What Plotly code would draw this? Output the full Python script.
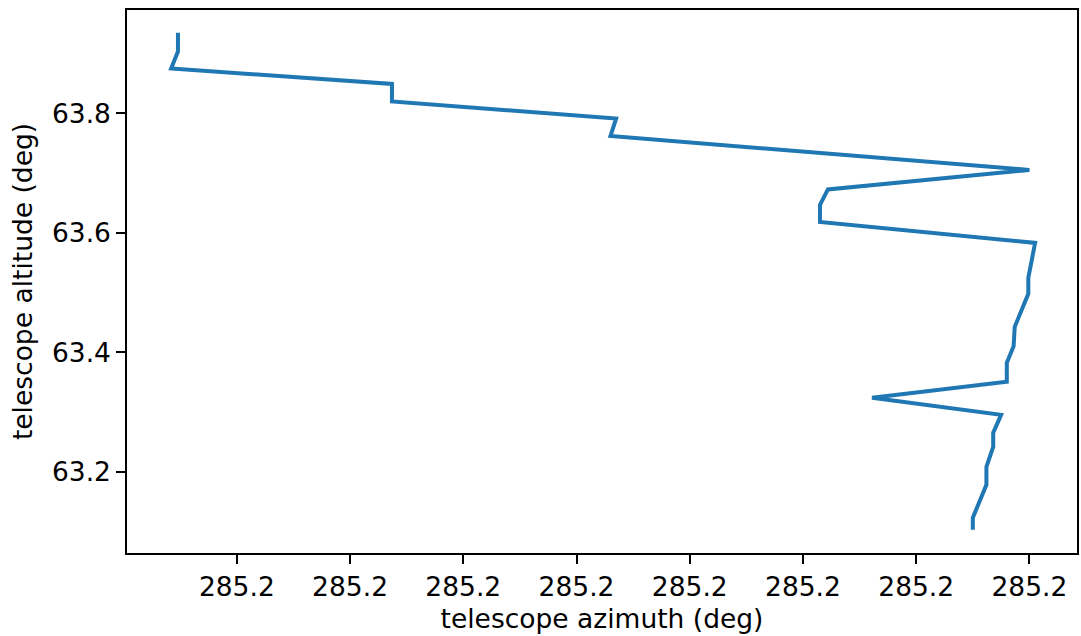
import plotly.graph_objects as go

# telescope azimuth (deg) and altitude (deg) along the track
azimuth = [285.1999648, 285.1999648, 285.1999642, 285.1999837, 285.1999837,
           285.2000035, 285.2000030, 285.2000400, 285.2000222, 285.2000215,
           285.2000215, 285.2000405, 285.2000399, 285.2000399, 285.2000387,
           285.2000386, 285.2000380, 285.2000380, 285.2000261, 285.2000375,
           285.2000368, 285.2000368, 285.2000362, 285.2000362, 285.2000350,
           285.2000350]
altitude = [63.9347, 63.9033, 63.8749, 63.8490, 63.8197,
            63.7913, 63.7621, 63.7052, 63.6726, 63.6467,
            63.6183, 63.5832, 63.5247, 63.4980, 63.4428,
            63.4102, 63.3827, 63.3509, 63.3242, 63.2957,
            63.2657, 63.2422, 63.2088, 63.1787, 63.1236,
            63.1035]

x_tickvals = [285.19997, 285.19998, 285.19999, 285.20000,
              285.20001, 285.20002, 285.20003, 285.20004]
x_ticktext = ["285.2"] * 8
y_tickvals = [63.2, 63.4, 63.6, 63.8]
y_ticktext = ["63.2", "63.4", "63.6", "63.8"]

fig = go.Figure()
fig.add_trace(go.Scatter(x=azimuth, y=altitude, mode="lines",
                         line=dict(color="#1f77b4", width=4),
                         showlegend=False))

font = dict(family="DejaVu Sans", size=26.5, color="black")
fig.update_layout(
    width=1081, height=636,
    margin=dict(l=127, r=4, t=10, b=83, autoexpand=False),
    paper_bgcolor="white", plot_bgcolor="white",
    font=font,
)
fig.update_xaxes(
    range=[285.1999603, 285.2000442],
    tickmode="array", tickvals=x_tickvals, ticktext=x_ticktext,
    ticks="outside", ticklen=9, tickwidth=1.5, tickcolor="black",
    showline=True, linecolor="black", linewidth=1.5, mirror=True,
    showgrid=False, zeroline=False,
    title=dict(text="telescope azimuth (deg)", font=font, standoff=9),
    tickfont=font,
)
fig.update_yaxes(
    range=[63.0646, 63.9727],
    tickmode="array", tickvals=y_tickvals, ticktext=y_ticktext,
    ticks="outside", ticklen=9, tickwidth=1.5, tickcolor="black",
    showline=True, linecolor="black", linewidth=1.5, mirror=True,
    showgrid=False, zeroline=False,
    title=dict(text="telescope altitude (deg)", font=font, standoff=12),
    tickfont=font,
)

fig.write_html("out.html", config={"displayModeBar": False},
               post_script="document.body.style.margin='0';document.body.style.padding='0';")
